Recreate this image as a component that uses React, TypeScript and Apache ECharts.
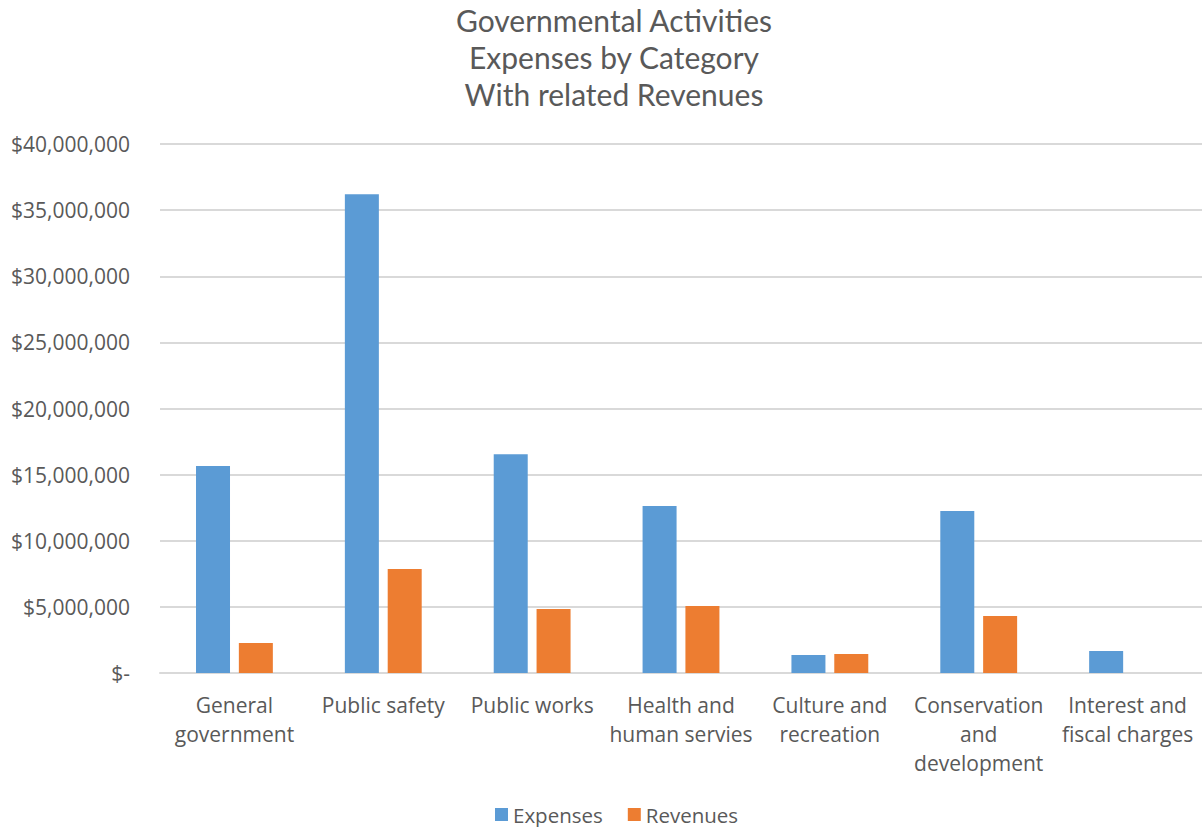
import React, { useEffect, useRef } from "react";
import * as echarts from "echarts";

const titleLines = ["Governmental Activities", "Expenses by Category", "With related Revenues"];
const categories = [
  "General\ngovernment",
  "Public safety",
  "Public works",
  "Health and\nhuman servies",
  "Culture and\nrecreation",
  "Conservation\nand\ndevelopment",
  "Interest and\nfiscal charges",
];
const expenses = [15650000, 36200000, 16550000, 12630000, 1360000, 12250000, 1660000];
const revenues = [2270000, 7860000, 4840000, 5070000, 1440000, 4310000, 0];

const FONT = "'Open Sans', Lato, sans-serif";
const TITLE_FONT = "Lato, 'Open Sans', sans-serif";
const TXT = "#595959";

export default function App() {
  const ref = useRef<HTMLDivElement>(null);
  useEffect(() => {
    const chart = echarts.init(ref.current!, null, { renderer: "svg" });
    chart.setOption({
      animation: false,
      textStyle: { fontFamily: FONT },
      title: {
        text: titleLines.join("\n"),
        left: 614,
        textAlign: "center",
        top: 1,
        padding: 0,
        textStyle: { fontFamily: TITLE_FONT, fontSize: 30, fontWeight: "normal", color: TXT, lineHeight: 37 },
      },
      legend: {
        left: 495,
        top: 804,
        padding: 0,
        icon: "rect",
        itemWidth: 13,
        itemHeight: 13,
        itemGap: 25,
        textStyle: { fontFamily: FONT, fontSize: 20.5, color: TXT },
        data: ["Expenses", "Revenues"],
      },
      grid: { left: 160, right: 0, top: 144, bottom: 154, containLabel: false },
      xAxis: {
        type: "category",
        data: categories,
        axisLine: { lineStyle: { color: "#d9d9d9", width: 2 } },
        axisTick: { show: false },
        axisLabel: { fontFamily: FONT, fontSize: 21, color: TXT, lineHeight: 29, margin: 17, interval: 0 },
      },
      yAxis: {
        type: "value",
        min: 0,
        max: 40000000,
        interval: 5000000,
        axisLine: { show: false },
        axisTick: { show: false },
        splitLine: { lineStyle: { color: "#d9d9d9", width: 2 } },
        axisLabel: {
          fontFamily: FONT,
          fontSize: 21,
          color: TXT,
          margin: 30,
          formatter: (v: number) => (v === 0 ? "$-" : "$" + v.toLocaleString("en-US")),
        },
      },
      series: [
        {
          name: "Expenses",
          type: "bar",
          data: expenses,
          barWidth: 34,
          barGap: "26%",
          itemStyle: { color: "#5B9BD5" },
        },
        {
          name: "Revenues",
          type: "bar",
          data: revenues,
          barWidth: 34,
          itemStyle: { color: "#ED7D31" },
        },
      ],
    });
    return () => chart.dispose();
  }, []);
  return (
    <div
      ref={ref}
      style={{ position: "fixed", left: 0, top: 0, width: 1202, height: 827, background: "#fff" }}
    />
  );
}
